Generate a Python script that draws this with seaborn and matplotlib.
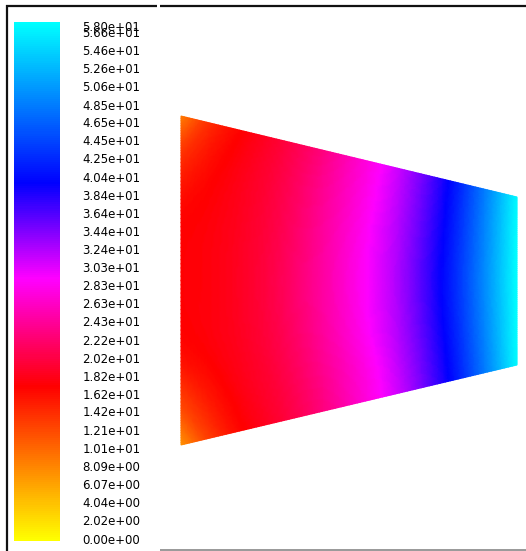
import numpy as np
import matplotlib
matplotlib.use("Agg")
import matplotlib.pyplot as plt
import matplotlib.tri as mtri
from matplotlib.colors import LinearSegmentedColormap, Normalize
from matplotlib.cm import ScalarMappable
from matplotlib.transforms import ScaledTranslation
import seaborn as sns

sns.set_style("white")
plt.rcParams["font.family"] = ["DejaVu Sans"]

# ---- data ----
vmin, vmax = 0.0, 58.0
tick_values = [0.0, 2.02, 4.04, 6.07, 8.09, 10.1, 12.1, 14.2, 16.2, 18.2, 20.2,
               22.2, 24.3, 26.3, 28.3, 30.3, 32.4, 34.4, 36.4, 38.4, 40.4,
               42.5, 44.5, 46.5, 48.5, 50.6, 52.6, 54.6, 56.6, 58.0]
# colormap anchors (fraction of range) and colors
cmap_pos = [0.0, 0.297, 0.505, 0.69, 1.0]
cmap_cols = ["#ffff00", "#ff0000", "#ff00ff", "#0000ff", "#00ffff"]

# field sampled along the nozzle: streamwise stations s, cross stations eta
s_st = [0.0, 0.08, 0.18, 0.30, 0.42, 0.55, 0.65, 0.78, 0.90, 1.0]
eta_st = [0.0, 0.12, 0.30, 0.50, 0.70, 0.88, 1.0]
field = [
    [7.5, 13.0, 17.0, 19.8, 23.1, 27.6, 31.5, 38.8, 48.3, 57.6],  # bottom wall
    [12.5, 15.5, 18.0, 20.3, 23.7, 28.0, 32.0, 39.3, 48.7, 57.8],
    [16.8, 17.6, 18.8, 21.0, 24.5, 28.9, 32.7, 40.0, 49.2, 57.9],
    [17.4, 17.8, 19.0, 21.3, 24.8, 29.2, 33.0, 40.4, 49.5, 58.0],  # axis
    [17.0, 17.6, 18.8, 21.0, 24.5, 28.9, 32.7, 40.0, 49.2, 57.9],
    [14.0, 16.3, 18.2, 20.5, 23.9, 28.2, 32.1, 39.4, 48.8, 57.8],
    [9.0, 14.0, 17.2, 19.9, 23.2, 27.7, 31.6, 38.9, 48.4, 57.6],   # top wall
]

# ---- geometry (pixel-like units of the figure) ----
W, H = 526, 551
x_in, x_out = 181, 517
yt_in, yb_in = 116, 445
yt_out, yb_out = 197, 365

fig = plt.figure(figsize=(W / 100, H / 100), dpi=100)
ax = fig.add_axes([0, 0, 1, 1])
ax.set_xlim(0, W)
ax.set_ylim(H, 0)
ax.axis("off")

cmap = LinearSegmentedColormap.from_list("fluent", list(zip(cmap_pos, cmap_cols)))
norm = Normalize(vmin, vmax)

S, E = np.meshgrid(np.array(s_st), np.array(eta_st))
X = x_in + S * (x_out - x_in)
YT = yt_in + S * (yt_out - yt_in)
YB = yb_in + S * (yb_out - yb_in)
Y = YB + E * (YT - YB)
Z = np.array(field)

tri = mtri.Triangulation(X.ravel(), Y.ravel())
refiner = mtri.UniformTriRefiner(tri)
interp = mtri.CubicTriInterpolator(tri, Z.ravel(), kind="geom")
tri_r, z_r = refiner.refine_field(Z.ravel(), triinterpolator=interp, subdiv=4)
z_r = np.clip(z_r, vmin, vmax)
ax.tripcolor(tri_r, z_r, cmap=cmap, norm=norm, shading="gouraud")

# frame lines
ax.plot([6.5, 6.5], [5, H], color="#111111", lw=1.6, solid_capstyle="butt")
ax.plot([6, 157], [5.5, 5.5], color="#111111", lw=1.6, solid_capstyle="butt")
ax.plot([160, W], [5.5, 5.5], color="#111111", lw=1.6, solid_capstyle="butt")
ax.plot([160, W], [549.5, 549.5], color="#888888", lw=1.2, solid_capstyle="butt")

# colorbar
cb_l, cb_r, cb_t, cb_b = 14, 60, 22, 541
cax = fig.add_axes([cb_l / W, 1 - cb_b / H, (cb_r - cb_l) / W, (cb_b - cb_t) / H])
cb = fig.colorbar(ScalarMappable(norm=norm, cmap=cmap), cax=cax)
cb.outline.set_visible(False)
cb.set_ticks(tick_values)
cb.set_ticklabels([f"{v:.2e}" for v in tick_values])
cax.tick_params(axis="y", length=0, pad=16, labelsize=8.5, labelcolor="black")
for i, lab in enumerate(cax.get_yticklabels()):
    dy = 2.5 if i < len(tick_values) - 1 else -4.0
    lab.set_transform(lab.get_transform() + ScaledTranslation(0, dy / 100, fig.dpi_scale_trans))

fig.savefig("out.png", dpi=100)
